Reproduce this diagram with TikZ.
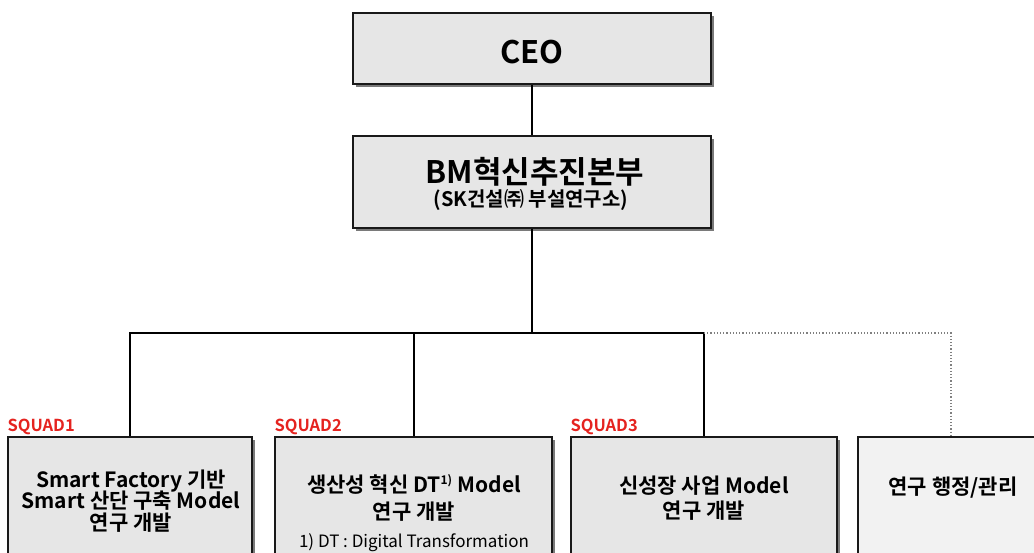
\documentclass[tikz,border=0pt]{standalone}
\usepackage{fontspec}
\setmainfont{Noto Sans CJK KR}[BoldFont={Noto Sans CJK KR Bold}]
\usetikzlibrary{shadows}
\definecolor{boxfill}{HTML}{E6E6E6}
\definecolor{boxfilllight}{HTML}{F2F2F2}
\definecolor{squadred}{HTML}{E5231F}
\definecolor{shadowgray}{HTML}{7A7A7A}
\tikzset{
  orgbox/.style={draw=black!90, line width=1.3pt, fill=boxfill,
    drop shadow={shadow xshift=3pt, shadow yshift=-3pt, fill=shadowgray, opacity=1},
    inner sep=0pt},
  conn/.style={line width=2pt, black},
  dotconn/.style={line width=1.2pt, gray, dotted},
  squad/.style={anchor=base west, text=squadred, font=\fontsize{16.5}{18}\selectfont\bfseries, inner sep=0pt},
  txt/.style={anchor=base, inner sep=0pt, font=\fontsize{21}{21}\selectfont\bfseries},
  note/.style={anchor=base, inner sep=0pt, font=\fontsize{17}{17}\selectfont}
}
\begin{document}
\begin{tikzpicture}[x=1pt, y=-1pt]
\useasboundingbox (0,0) rectangle (1034,552);
\clip (0,0) rectangle (1034,552);
\fill[white] (0,0) rectangle (1034,552);
% boxes
\node[orgbox, minimum width=358pt, minimum height=71pt] (ceo) at (532,48.5) {};
\node[orgbox, minimum width=358pt, minimum height=92pt] (bm) at (532,182) {};
\node[orgbox, minimum width=244pt, minimum height=130pt] (s1) at (130,502) {};
\node[orgbox, minimum width=277pt, minimum height=130pt] (s2) at (413.5,502) {};
\node[orgbox, minimum width=266pt, minimum height=130pt] (s3) at (704,502) {};
\node[orgbox, fill=boxfilllight, minimum width=186pt, minimum height=130pt] (s4) at (951,502) {};
% texts
\node[txt, font=\fontsize{31}{31}\selectfont\bfseries] (ceot) at (532,63) {CEO};
\node[txt, font=\fontsize{31}{31}\selectfont\bfseries] (bmt1) at (535,183) {BM혁신추진본부};
\node[txt, font=\fontsize{20}{20}\selectfont\bfseries] (bmt2) at (531,206) {(SK건설㈜ 부설연구소)};
\node[txt] (s1a) at (131,487) {Smart Factory 기반};
\node[txt] (s1b) at (131,508) {Smart 산단 구축 Model};
\node[txt] (s1c) at (131,530) {연구 개발};
\node[txt] (s2a) at (414,492) {생산성 혁신 DT\textsuperscript{\fontsize{12}{12}\selectfont 1)} Model};
\node[txt] (s2b) at (414,519) {연구 개발};
\node[note] (s2c) at (414,547) {1) DT : Digital Transformation};
\node[txt] (s3a) at (704,493) {신성장 사업 Model};
\node[txt] (s3b) at (704,518) {연구 개발};
\node[txt] (s4a) at (953,494) {연구 행정/관리};
\node[squad] (q1) at ([yshift=5pt]s1.north west) {SQUAD1};
\node[squad] (q2) at ([yshift=5pt]s2.north west) {SQUAD2};
\node[squad] (q3) at ([yshift=5pt]s3.north west) {SQUAD3};
% connectors
\coordinate (bar) at (532,333);
\draw[conn] (ceo.south) -- (bm.north);
\draw[conn] (bm.south) -- (bm.south |- bar);
\draw[conn] (s1.north) -- (s1.north |- bar) -- (s3.north |- bar) -- (s3.north);
\draw[conn] (s2.north) -- (s2.north |- bar);
\draw[dotconn] (s3.north |- bar) -- (s4.north |- bar) -- (s4.north);
\end{tikzpicture}
\end{document}
